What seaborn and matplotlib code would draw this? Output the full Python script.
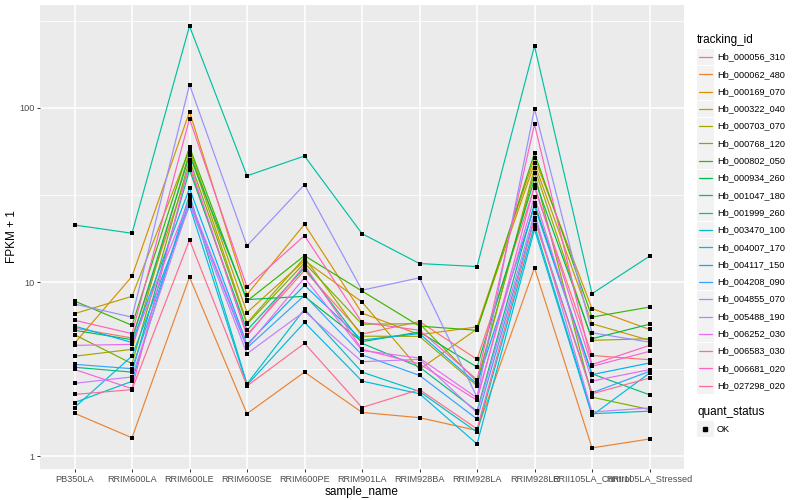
import matplotlib
matplotlib.use("Agg")

import matplotlib.pyplot as plt
import numpy as np
import pandas as pd
import seaborn as sns

from matplotlib.lines import Line2D
from matplotlib.patches import Rectangle

samples = ["PB350LA", "RRIM600LA", "RRIM600LE", "RRIM600SE", "RRIM600PE",
           "RRIM901LA", "RRIM928BA", "RRIM928LA", "RRIM928LE",
           "RRII105LA_Control", "RRII105LA_Stressed"]

tracking_ids = ["Hb_000056_310", "Hb_000062_480", "Hb_000169_070", "Hb_000322_040",
                "Hb_000703_070", "Hb_000768_120", "Hb_000802_050", "Hb_000934_260",
                "Hb_001047_180", "Hb_001999_260", "Hb_003470_100", "Hb_004007_170",
                "Hb_004117_150", "Hb_004208_090", "Hb_004855_070", "Hb_005488_190",
                "Hb_006252_030", "Hb_006583_030", "Hb_006681_020", "Hb_027298_020"]

# FPKM + 1, one list per gene, same order as samples
hb_000056_310 = [5.45, 4.79, 46.0, 5.0, 11.7, 5.04, 5.95, 3.61, 34.9, 3.8, 3.59]
hb_000062_480 = [1.77, 1.28, 10.7, 1.76, 3.05, 1.79, 1.67, 1.41, 12.1, 1.12, 1.26]
hb_000169_070 = [4.46, 10.8, 95.0, 8.5, 21.5, 6.65, 5.0, 5.54, 51.7, 7.06, 5.36]
hb_000322_040 = [6.6, 8.3, 57.9, 6.7, 13.3, 7.7, 3.16, 5.39, 48.1, 5.78, 4.64]
hb_000703_070 = [3.76, 4.12, 56.1, 5.84, 13.8, 4.9, 4.89, 2.55, 45.2, 4.64, 4.74]
hb_000768_120 = [5.0, 3.41, 50.4, 5.74, 12.9, 5.74, 5.78, 2.69, 42.5, 2.19, 1.86]
hb_000802_050 = [7.8, 5.66, 59.8, 7.8, 14.2, 8.9, 5.6, 5.3, 55.0, 6.31, 7.2]
hb_000934_260 = [5.3, 4.68, 53.6, 7.95, 8.3, 4.56, 5.18, 3.26, 39.1, 4.74, 5.74]
hb_001047_180 = [3.25, 3.05, 44.1, 5.3, 12.1, 4.46, 3.26, 1.82, 28.3, 2.98, 2.26]
hb_001999_260 = [21.3, 19.1, 295.0, 40.8, 53.0, 19.0, 12.8, 12.3, 227.0, 8.6, 14.1]
hb_003470_100 = [2.04, 2.70, 31.8, 2.61, 7.0, 3.05, 2.36, 1.38, 21.2, 1.76, 1.82]
hb_004007_170 = [1.91, 3.77, 27.5, 2.57, 5.88, 2.71, 2.29, 1.18, 20.1, 1.72, 3.01]
hb_004117_150 = [5.6, 4.51, 34.6, 4.4, 9.6, 4.66, 5.07, 2.61, 27.3, 2.95, 3.44]
hb_004208_090 = [3.38, 3.19, 29.2, 4.2, 8.4, 3.83, 2.92, 1.64, 23.5, 2.32, 3.08]
hb_004855_070 = [7.5, 6.3, 136.0, 16.2, 36.3, 9.0, 10.6, 2.19, 98.7, 5.13, 4.53]
hb_005488_190 = [2.63, 2.86, 28.2, 3.89, 6.8, 3.5, 3.61, 1.78, 25.0, 1.80, 1.90]
hb_006252_030 = [4.34, 4.40, 30.0, 4.3, 10.6, 4.06, 3.67, 2.17, 31.0, 2.71, 3.15]
hb_006583_030 = [3.16, 2.45, 48.1, 4.9, 12.5, 4.12, 3.4, 2.10, 36.0, 3.29, 4.01]
hb_006681_020 = [6.05, 5.07, 86.5, 9.4, 18.5, 5.88, 5.3, 2.76, 80.6, 3.37, 4.34]
hb_027298_020 = [2.27, 2.42, 17.5, 2.54, 4.46, 1.91, 2.42, 1.44, 22.9, 2.29, 2.82]

series = [hb_000056_310, hb_000062_480, hb_000169_070, hb_000322_040, hb_000703_070,
          hb_000768_120, hb_000802_050, hb_000934_260, hb_001047_180, hb_001999_260,
          hb_003470_100, hb_004007_170, hb_004117_150, hb_004208_090, hb_004855_070,
          hb_005488_190, hb_006252_030, hb_006583_030, hb_006681_020, hb_027298_020]

quant_status = ["OK"]

# ggplot default hue palette for 20 levels
colors = ["#F8766D", "#EA8331", "#D89000", "#C09B00", "#A3A500", "#7CAE00", "#39B600",
          "#00BB4E", "#00BF7D", "#00C1A3", "#00BFC4", "#00BAE0", "#00B0F6", "#35A2FF",
          "#9590FF", "#C77CFF", "#E76BF3", "#FA62DB", "#FF62BC", "#FF6C91"]

rows = []
for tid, vals in zip(tracking_ids, series):
    for s, v in zip(samples, vals):
        rows.append((tid, s, v, quant_status[0]))
df = pd.DataFrame(rows, columns=["tracking_id", "sample_name", "fpkm", "quant_status"])

sns.set_theme(style="dark")
plt.rcParams['font.family'] = ['Liberation Sans', 'DejaVu Sans']

W, H = 800, 500
fig = plt.figure(figsize=(W / 100, H / 100), dpi=100)
ax = fig.add_axes([40 / W, 1 - 469 / H, (684 - 40) / W, (469 - 5) / H])
ax.set_facecolor("#EBEBEB")

pal = dict(zip(tracking_ids, colors))
sns.lineplot(data=df, x="sample_name", y="fpkm", hue="tracking_id", hue_order=tracking_ids,
             palette=pal, estimator=None, sort=False, lw=0.85, legend=False, ax=ax)
sns.scatterplot(data=df, x="sample_name", y="fpkm", color="black", marker="s", s=6,
                linewidth=0, legend=False, ax=ax, zorder=3)

ax.set_yscale("log")
lo = np.log10(df["fpkm"].min())
hi = np.log10(df["fpkm"].max())
pad = 0.05 * (hi - lo)
ax.set_ylim(10 ** (lo - pad), 10 ** (hi + pad))
ax.set_xlim(-0.6, len(samples) - 1 + 0.6)

ax.set_yticks([1, 10, 100])
ax.set_yticklabels(["1", "10", "100"])
ax.set_yticks([10 ** 0.5, 10 ** 1.5, 10 ** 2.5], minor=True)
ax.yaxis.set_minor_formatter(matplotlib.ticker.NullFormatter())
ax.tick_params(axis="y", which="minor", length=0)
ax.set_axisbelow(True)
ax.yaxis.grid(True, which="major", color="white", lw=1.1)
ax.yaxis.grid(True, which="minor", color="white", lw=0.55)
ax.xaxis.grid(True, which="major", color="white", lw=1.1)

for sp in ax.spines.values():
    sp.set_visible(False)
ax.tick_params(axis="both", which="major", length=2.5, width=0.7, color="#333333",
               labelcolor="#4D4D4D", labelsize=6.6, pad=1.5, bottom=True, left=True)

ax.set_xlabel("sample_name", fontsize=8.5, color="black", labelpad=2)
ax.set_ylabel("FPKM + 1", fontsize=8.5, color="black", labelpad=0)
ax.yaxis.set_label_coords(-22 / (684 - 40), 0.5)


# legend drawn in pixel coordinates (y from the top)
def fx(x):
    return x / W


def fy(y):
    return 1 - y / H


fig.text(fx(697), fy(40), "tracking_id", fontsize=8.5, va="center", ha="left", color="black")
for i, (tid, col) in enumerate(zip(tracking_ids, colors)):
    cy = 57 + i * 17.3
    fig.add_artist(Rectangle((fx(697), fy(cy + 8.4)), 16.8 / W, 16.8 / H,
                             transform=fig.transFigure, facecolor="#F2F2F2", edgecolor="none"))
    fig.add_artist(Line2D([fx(699), fx(712)], [fy(cy), fy(cy)], transform=fig.transFigure,
                          color=col, lw=0.9))
    fig.text(fx(717), fy(cy), tid, fontsize=6.6, va="center", ha="left", color="black")

fig.text(fx(697), fy(412), "quant_status", fontsize=8.5, va="center", ha="left", color="black")
for j, qs in enumerate(quant_status):
    cy = 429 + j * 17.3
    fig.add_artist(Rectangle((fx(697), fy(cy + 8.4)), 16.8 / W, 16.8 / H,
                             transform=fig.transFigure, facecolor="#F2F2F2", edgecolor="none"))
    fig.add_artist(Line2D([fx(705)], [fy(cy)], transform=fig.transFigure, marker="s",
                          markersize=2.6, color="black", lw=0))
    fig.text(fx(717), fy(cy), qs, fontsize=6.6, va="center", ha="left", color="black")

fig.savefig("out.png", dpi=100)
